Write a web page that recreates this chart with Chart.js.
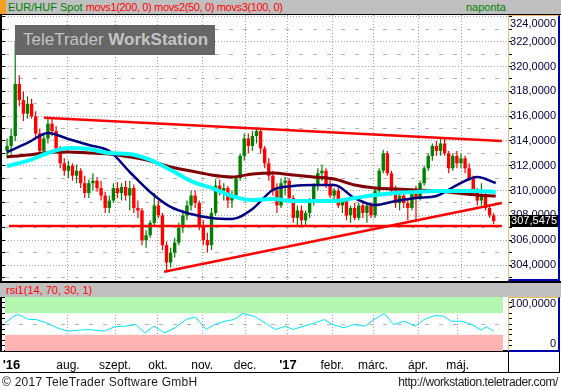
<!DOCTYPE html>
<html>
<head>
<meta charset="utf-8">
<title>EUR/HUF Spot</title>
<script src="https://cdn.jsdelivr.net/npm/chart.js@4.4.1/dist/chart.umd.min.js"></script>
<style>
body { margin: 0; background: #fff; }
#page { position: relative; width: 561px; height: 390px; overflow: hidden; background: #fff;
  font-family: "Liberation Sans", Arial, sans-serif; }
#page div, #page canvas { position: absolute; }
.gray { background: #c0c0c0; }
.blk { background: #000; }
.axbox { box-sizing: border-box; border-left: 1px solid #f0c060; border-top: 1px solid #f0c060;
  border-right: 2px solid #0000b0; border-bottom: 2px solid #0000b0; }
.txt { font-size: 11px; line-height: 14px; white-space: nowrap; }
.foot { font-size: 12px; line-height: 14px; white-space: nowrap; color: #1a1a1a; }
</style>
</head>
<body>
<div id="page">
  <canvas id="main" width="561" height="266" style="left:0;top:15px"></canvas>
  <canvas id="rsi" width="561" height="76" style="left:0;top:297px"></canvas>

  <div class="gray" style="left:0;top:0;width:561px;height:14px"></div>
  <div style="left:0;top:0;width:6px;height:14px;background:#f4a020"></div>
  <div class="blk" style="left:0;top:14px;width:561px;height:1px"></div>
  <div class="txt" style="left:8px;top:0"><span style="color:#008000">EUR/HUF Spot</span> <span style="color:#ff0000;letter-spacing:-0.35px">movs1(200, 0) movs2(50, 0) movs3(100, 0)</span></div>
  <div class="txt" style="left:466px;top:0;color:#008000">naponta</div>

  <div style="left:15px;top:25px;width:200px;height:30px;background:#666;color:#c4c4c4;font-size:17px;line-height:30px;padding-left:8px;box-sizing:border-box;white-space:nowrap">TeleTrader <b>WorkStation</b></div>

  <div class="blk" style="left:0;top:15px;width:2px;height:266px"></div>
  <div class="axbox" style="left:508px;top:15px;width:52px;height:266px"></div>

  <div class="blk" style="left:0;top:281px;width:561px;height:2px"></div>
  <div class="gray" style="left:0;top:283px;width:561px;height:14px"></div>
  <div class="txt" style="left:6px;top:283px;color:#ff0000">rsi1(14, 70, 30, 1)</div>

  <div class="blk" style="left:0;top:297px;width:2px;height:55px"></div>
  <div class="axbox" style="left:508px;top:297px;width:52px;height:55px"></div>
  <div class="blk" style="left:0;top:372px;width:560px;height:1px"></div>
  <div style="left:508px;top:351px;width:52px;height:22px;box-sizing:border-box;border-left:1px solid #000;border-right:1px solid #000"></div>

  <div class="foot" style="left:2px;top:375px;letter-spacing:0.25px">© 2017 TeleTrader Software GmbH</div>
  <div class="foot" style="right:3px;top:375px;letter-spacing:-0.4px">http://workstation.teletrader.com/</div>
</div>

<script>
// EUR/HUF daily candles, one candle per 2 trading days (Jun 2016 - May 2017)
var openP = [313.2, 313.6, 314.4, 318.6, 317.3, 316.2, 317.0, 316.0, 314.6, 313.2,
  314.2, 315.4, 314.8, 313.4, 312.2, 311.6, 312.0, 311.2, 311.6, 310.6,
  309.8, 310.6, 310.8, 310.2, 309.6, 308.6, 309.2, 310.2, 309.8, 310.3,
  309.6, 310.2, 308.6, 308.4, 306.0, 306.4, 307.4, 308.8, 308.0, 305.6,
  304.2, 305.0, 305.8, 307.0, 308.0, 308.8, 309.6, 309.0, 307.2, 306.0,
  305.6, 308.2, 310.4, 310.0, 310.2, 309.2, 309.6, 311.0, 312.8, 314.2,
  313.6, 314.4, 314.8, 313.4, 312.2, 311.2, 310.0, 308.8, 310.6, 310.8,
  309.4, 307.8, 308.4, 307.6, 308.2, 309.0, 310.4, 311.4, 311.6, 310.4,
  309.6, 310.0, 308.8, 309.2, 308.0, 308.6, 307.8, 308.8, 308.2, 308.8,
  308.0, 310.0, 311.6, 313.0, 311.4, 310.0, 309.0, 309.6, 309.0, 308.6,
  309.8, 309.4, 310.6, 311.8, 312.8, 313.6, 313.2, 313.8, 313.0, 311.8,
  312.8, 312.2, 312.6, 311.8, 311.0, 310.0, 309.2, 309.6, 308.6, 308.0];
var highP = [314.2, 315.0, 322.0, 319.3, 318.0, 317.6, 317.4, 316.4, 315.0, 314.6,
  315.9, 315.9, 315.2, 313.6, 312.6, 312.4, 312.2, 312.1, 311.8, 311.2,
  310.9, 311.4, 311.1, 310.8, 309.9, 309.6, 310.6, 310.7, 310.6, 310.8,
  310.8, 310.5, 309.2, 308.6, 306.8, 307.6, 309.8, 309.2, 308.2, 305.9,
  305.4, 306.2, 307.4, 308.4, 309.2, 310.0, 310.0, 309.2, 307.6, 306.6,
  308.6, 310.9, 310.9, 310.6, 310.4, 310.0, 311.2, 313.0, 314.6, 314.6,
  314.8, 315.1, 315.0, 313.6, 312.6, 311.6, 310.6, 311.0, 311.1, 311.0,
  309.6, 308.8, 308.8, 308.4, 309.4, 310.6, 311.8, 312.1, 311.8, 311.0,
  310.2, 310.2, 309.4, 309.4, 308.8, 309.0, 309.0, 309.2, 309.0, 309.0,
  310.2, 311.8, 313.3, 313.2, 311.6, 310.4, 309.8, 310.2, 309.4, 310.0,
  310.4, 310.8, 312.0, 313.0, 313.8, 314.0, 314.2, 314.2, 313.2, 313.0,
  313.2, 313.0, 312.8, 312.2, 311.2, 310.2, 310.6, 309.8, 308.8, 308.2];
var lowP = [312.6, 312.9, 314.0, 316.8, 315.6, 315.8, 315.8, 314.2, 312.6, 312.8,
  313.8, 314.4, 313.0, 311.8, 311.2, 311.0, 310.8, 310.6, 310.2, 309.4,
  309.4, 310.0, 309.9, 309.2, 308.2, 308.2, 309.0, 309.4, 309.2, 309.2,
  308.4, 308.2, 307.8, 305.6, 305.4, 306.2, 307.2, 307.8, 305.2, 303.4,
  303.8, 304.6, 305.6, 306.6, 307.6, 308.4, 308.6, 306.8, 305.6, 305.0,
  305.2, 308.0, 309.6, 309.2, 308.6, 308.6, 309.4, 310.8, 312.4, 313.0,
  313.2, 313.8, 313.0, 311.8, 310.8, 309.6, 308.2, 308.6, 309.6, 309.2,
  307.4, 307.2, 307.2, 307.2, 307.8, 308.8, 310.0, 310.8, 310.2, 309.4,
  309.0, 308.6, 308.2, 307.6, 307.4, 307.6, 307.6, 307.8, 307.4, 307.8,
  307.8, 309.8, 311.4, 311.2, 309.6, 308.6, 308.4, 308.6, 307.6, 308.4,
  307.5, 309.2, 310.4, 311.6, 312.4, 312.8, 312.8, 312.8, 311.4, 311.6,
  311.8, 311.8, 311.4, 310.8, 309.6, 308.8, 308.8, 308.4, 307.8, 307.3];
var closeP = [313.6, 314.4, 318.6, 317.3, 316.2, 317.0, 316.0, 314.6, 313.2, 314.2,
  315.4, 314.8, 313.4, 312.2, 311.6, 312.0, 311.2, 311.6, 310.6, 309.8,
  310.6, 310.8, 310.2, 309.6, 308.6, 309.2, 310.2, 309.8, 310.3, 309.6,
  310.2, 308.6, 308.4, 306.0, 306.4, 307.4, 308.8, 308.0, 305.6, 304.2,
  305.0, 305.8, 307.0, 308.0, 308.8, 309.6, 309.0, 307.2, 306.0, 305.6,
  308.2, 310.4, 310.0, 310.2, 309.2, 309.6, 311.0, 312.8, 314.2, 313.6,
  314.4, 314.8, 313.4, 312.2, 311.2, 310.0, 308.8, 310.6, 310.8, 309.4,
  307.8, 308.4, 307.6, 308.2, 309.0, 310.4, 311.4, 311.6, 310.4, 309.6,
  310.0, 308.8, 309.2, 308.0, 308.6, 307.8, 308.8, 308.2, 308.8, 308.0,
  310.0, 311.6, 313.0, 311.4, 310.0, 309.0, 309.6, 309.0, 308.6, 309.8,
  309.4, 310.6, 311.8, 312.8, 313.6, 313.2, 313.8, 313.0, 311.8, 312.8,
  312.2, 312.6, 311.8, 311.0, 310.0, 309.2, 309.6, 308.6, 308.0, 307.5475];

// moving averages read at candle positions
var maIdx = [0, 5, 10, 15, 20, 25, 30, 35, 40, 45, 50, 55, 60, 65, 70, 75, 80, 85, 90, 95, 100, 105, 110, 115, 119.5];
var movs1 = [312.71, 312.87, 313.07, 313.11, 313.03, 312.95, 312.71, 312.39, 311.90, 311.58, 311.26, 311.10, 311.34,
  311.42, 311.26, 311.10, 310.94, 310.45, 310.21, 310.13, 310.05, 309.97, 309.81, 309.65, 309.56];
var movs2 = [313.11, 313.84, 314.65, 314.16, 313.68, 313.19, 311.50, 309.89, 308.68, 308.11, 307.79, 307.71, 308.52,
  310.05, 310.37, 310.45, 310.45, 309.40, 308.84, 309.16, 309.40, 309.56, 310.45, 311.10, 310.61];
var movs3 = [311.98, 312.39, 313.03, 313.44, 313.35, 313.03, 312.95, 312.47, 311.66, 310.77, 310.21, 309.56, 309.24,
  309.32, 309.16, 309.16, 309.16, 309.40, 309.65, 309.81, 309.89, 309.97, 309.97, 309.97, 309.89];

// trend lines (candle index, price)
var upperX = [9.04, 121], upperY = [315.88, 314.0];
var supportX = [0.48, 121], supportY = [307.15, 307.15];
var lowerX = [38.4, 121], lowerY = [303.46, 309.0];

// RSI(14)
var rsiIdx = [-0.5, 1.7, 2.7, 5.4, 7.1, 9.7, 12.2, 14.9, 17.6, 20.0, 23.7, 26.3, 28.8, 31.5, 33.7, 35.9, 38.5,
  41.1, 43.8, 46.0, 48.7, 50.8, 53.3, 55.5, 57.7, 60.4, 63.1, 65.6, 68.2, 69.9, 72.6, 75.3, 77.5, 79.7, 82.3,
  84.8, 87.5, 89.7, 92.3, 94.5, 97.1, 99.8, 102.0, 104.6, 106.8, 108.5, 111.1, 113.7, 115.9, 117.3, 119.0];
var rsiVal = [52, 64.5, 67.6, 58.3, 58.3, 52.2, 43, 36.7, 38.6, 39.8, 36.7, 44.8, 46, 49, 33.6, 46, 33.6,
  43, 58.3, 63.3, 39.8, 49, 55.2, 58.3, 69.4, 64.5, 52.2, 39.8, 46, 39.8, 46, 52.2, 58.3, 49, 43,
  49, 46, 58.3, 69.4, 49, 55.2, 46, 58.3, 65.7, 64.5, 55.2, 55.2, 49, 38.6, 44.8, 36.7];
var rsiBands = [30, 70];

// axes
var xMin = -0.5, xMax = 122.5;
var priceMin = 302.71, priceMax = 324.16;
var priceTicks = [303, 304, 305, 306, 307, 308, 309, 310, 311, 312, 313, 314, 315, 316, 317, 318, 319, 320, 321, 322, 323, 324];
var rsiTicks = [0, 10, 20, 30, 40, 50, 60, 70, 80, 90, 100];
var monthPos = [14.9, 26.4, 36.9, 47.7, 58.2, 68.7, 79.5, 89.5, 100.5, 111.2];
var axisPos = [1.1, 14.9, 26.4, 36.9, 47.7, 58.2, 68.7, 79.5, 89.5, 100.5, 110.2];
var axisLabels = ["'16", 'aug.', 'szept.', 'okt.', 'nov.', 'dec.', "'17", 'febr.', 'márc.', 'ápr.', 'máj.'];

Chart.defaults.font.family = '"Liberation Sans", Arial, sans-serif';
var green = '#008000', red = '#ff0000';
var fmt = function(v) { return v.toFixed(4).replace('.', ','); };
var pts = function(xs, ys) { return xs.map(function(x, i) { return {x: x, y: ys[i]}; }); };
var candleColor = function(c) { return closeP[c.dataIndex] >= openP[c.dataIndex] ? green : red; };
var wicks = closeP.map(function(_, i) { return {x: i, y: [lowP[i], highP[i]]}; });
var bodies = closeP.map(function(_, i) { return {x: i, y: [openP[i], closeP[i]]}; });

var lastPrice = {
    id: 'lastPrice',
    afterDraw: function(chart) {
        var ctx = chart.ctx, a = chart.chartArea;
        var v = closeP[closeP.length - 1];
        var py = Math.round(chart.scales.y.getPixelForValue(v));
        ctx.save();
        ctx.fillStyle = '#000';
        ctx.fillRect(a.right + 2, py - 6, 48, 12);
        ctx.fillStyle = '#fff';
        ctx.font = '11px "Liberation Sans", Arial, sans-serif';
        ctx.textAlign = 'right';
        ctx.textBaseline = 'middle';
        ctx.fillText(fmt(v), a.right + 49, py);
        ctx.restore();
    }
};

var bands = {
    id: 'bands',
    beforeDatasetsDraw: function(chart) {
        var ctx = chart.ctx, a = chart.chartArea, y = chart.scales.y;
        ctx.save();
        ctx.fillStyle = '#b3f6b0';
        ctx.fillRect(a.left, y.getPixelForValue(100), a.right - 5 - a.left, y.getPixelForValue(rsiBands[1]) - y.getPixelForValue(100));
        ctx.fillStyle = '#ffb3b3';
        ctx.fillRect(a.left, y.getPixelForValue(rsiBands[0]), a.right - 5 - a.left, y.getPixelForValue(0) - y.getPixelForValue(rsiBands[0]));
        ctx.restore();
    }
};

var line = function(data, color, width, order) {
    return {type: 'line', data: data, borderColor: color, borderWidth: width, pointRadius: 0,
        cubicInterpolationMode: 'monotone', order: order};
};

var mainChart = new Chart(document.getElementById('main'), {
    type: 'bar',
    data: {
        datasets: [
            line(pts(upperX, upperY), red, 2.5, 1),
            line(pts(supportX, supportY), red, 2.5, 1),
            line(pts(lowerX, lowerY), red, 2.5, 1),
            line(pts(maIdx, movs3), '#00ffff', 4, 2),
            line(pts(maIdx, movs2), '#000080', 2.5, 3),
            line(pts(maIdx, movs1), '#800000', 3, 4),
            {data: wicks, backgroundColor: candleColor, barThickness: 1.2, grouped: false, inflateAmount: 0, order: 6},
            {data: bodies, backgroundColor: candleColor, barThickness: 3.4, grouped: false, inflateAmount: 0, order: 5}
        ]
    },
    options: {
        responsive: false,
        animation: false,
        events: [],
        layout: {padding: {left: 0, right: 5, top: 0, bottom: 0}},
        plugins: {legend: {display: false}, tooltip: {enabled: false}},
        scales: {
            x: {
                type: 'linear', min: xMin, max: xMax, offset: false, bounds: 'data',
                grid: {offset: false, color: '#a0a0a0', drawTicks: false},
                border: {display: false, dash: [1, 2]},
                ticks: {display: false},
                afterBuildTicks: function(s) { s.ticks = monthPos.map(function(v) { return {value: v}; }); },
                afterFit: function(s) { s.height = 0; s.paddingLeft = 0; s.paddingRight = 0; }
            },
            y: {
                position: 'right', min: priceMin, max: priceMax, bounds: 'data',
                grid: {
                    color: function(c) { return c.tick && c.tick.value % 2 === 0 ? '#a0a0a0' : 'rgba(0,0,0,0)'; },
                    tickColor: '#000', tickLength: 4, tickBorderDash: []
                },
                border: {display: false, dash: [1, 2]},
                ticks: {
                    autoSkip: false, padding: 2, crossAlign: 'far', color: '#00003c',
                    font: {size: 11},
                    callback: function(v) {
                        if (v % 2) return '';
                        return v === 324 ? ['', fmt(v)] : fmt(v);
                    }
                },
                afterBuildTicks: function(s) { s.ticks = priceTicks.map(function(v) { return {value: v}; }); },
                afterFit: function(s) { s.width = 48; s.paddingTop = 0; s.paddingBottom = 0; }
            },
            yL: {
                position: 'left', min: priceMin, max: priceMax, bounds: 'data',
                grid: {
                    color: function(c) { return c.tick && c.tick.value % 2 === 1 ? '#b4b4b4' : 'rgba(0,0,0,0)'; },
                    tickColor: '#000', tickLength: 4, tickBorderDash: []
                },
                border: {display: false, dash: [4, 10]},
                ticks: {display: false},
                afterBuildTicks: function(s) { s.ticks = priceTicks.map(function(v) { return {value: v}; }); },
                afterFit: function(s) { s.width = 5; s.paddingTop = 0; s.paddingBottom = 0; }
            }
        }
    },
    plugins: [lastPrice]
});

var rsiChart = new Chart(document.getElementById('rsi'), {
    type: 'line',
    data: {
        datasets: [{data: pts(rsiIdx, rsiVal), borderColor: '#00e4ff', borderWidth: 1, pointRadius: 0, tension: 0}]
    },
    options: {
        responsive: false,
        animation: false,
        events: [],
        layout: {padding: {left: 0, right: 5, top: 0, bottom: 0}},
        plugins: {legend: {display: false}, tooltip: {enabled: false}},
        scales: {
            x: {
                type: 'linear', min: xMin, max: xMax, offset: false, bounds: 'data',
                grid: {
                    offset: false, drawTicks: false,
                    color: function(c) { return c.index === 0 ? 'rgba(0,0,0,0)' : '#a0a0a0'; }
                },
                border: {display: true, color: '#000', width: 2, dash: [1, 2]},
                ticks: {
                    autoSkip: false, maxRotation: 0, padding: 7, color: '#000',
                    font: function(c) {
                        var yr = axisLabels[c.index] && axisLabels[c.index].charAt(0) === "'";
                        return {size: yr ? 13 : 12, weight: yr ? 'bold' : 'normal'};
                    },
                    callback: function(v, i) { return axisLabels[i]; }
                },
                afterBuildTicks: function(s) { s.ticks = axisPos.map(function(v) { return {value: v}; }); },
                afterFit: function(s) { s.height = 22; s.paddingLeft = 0; s.paddingRight = 0; }
            },
            y: {
                position: 'right', min: 0, max: 100, bounds: 'data',
                grid: {
                    color: function(c) { return c.tick && c.tick.value === 50 ? '#b4b4b4' : 'rgba(0,0,0,0)'; },
                    tickColor: '#000', tickLength: 4, tickBorderDash: []
                },
                border: {display: false, dash: [4, 10]},
                ticks: {
                    autoSkip: false, padding: 2, crossAlign: 'far', color: '#00003c',
                    font: {size: 11},
                    callback: function(v) {
                        if (v === 100) return ['', fmt(v)];
                        if (v === 0) return ['0', ''];
                        return '';
                    }
                },
                afterBuildTicks: function(s) { s.ticks = rsiTicks.map(function(v) { return {value: v}; }); },
                afterFit: function(s) { s.width = 48; s.paddingTop = 0; s.paddingBottom = 0; }
            },
            yL: {
                position: 'left', min: 0, max: 100, bounds: 'data',
                grid: {color: 'rgba(0,0,0,0)', tickColor: '#000', tickLength: 4, tickBorderDash: []},
                border: {display: false},
                ticks: {display: false},
                afterBuildTicks: function(s) { s.ticks = rsiTicks.map(function(v) { return {value: v}; }); },
                afterFit: function(s) { s.width = 5; s.paddingTop = 0; s.paddingBottom = 0; }
            }
        }
    },
    plugins: [bands]
});
</script>
</body>
</html>
